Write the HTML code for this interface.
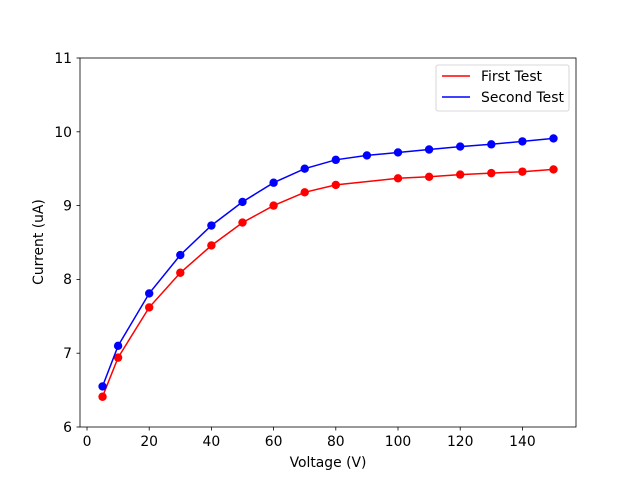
<!DOCTYPE html>
<html><head><meta charset="utf-8"><style>body{margin:0;background:#fff}svg{display:block}text{font-family:"DejaVu Sans","Liberation Sans",sans-serif;font-size:13.9px;fill:#000}</style></head>
<body>
<svg id="s" width="640" height="480" xmlns="http://www.w3.org/2000/svg">
<rect x="80" y="58" width="496" height="369" fill="none" stroke="#000" stroke-width="0.8"/>
<g stroke="#000" stroke-width="0.8">
<line x1="87" y1="427" x2="87" y2="430.5"/><line x1="149.2" y1="427" x2="149.2" y2="430.5"/><line x1="211.4" y1="427" x2="211.4" y2="430.5"/><line x1="273.6" y1="427" x2="273.6" y2="430.5"/><line x1="335.8" y1="427" x2="335.8" y2="430.5"/><line x1="398" y1="427" x2="398" y2="430.5"/><line x1="460.2" y1="427" x2="460.2" y2="430.5"/><line x1="522.4" y1="427" x2="522.4" y2="430.5"/>
<line x1="76.5" y1="427" x2="80" y2="427"/><line x1="76.5" y1="353.2" x2="80" y2="353.2"/><line x1="76.5" y1="279.4" x2="80" y2="279.4"/><line x1="76.5" y1="205.6" x2="80" y2="205.6"/><line x1="76.5" y1="131.8" x2="80" y2="131.8"/><line x1="76.5" y1="58" x2="80" y2="58"/>
</g>
<g text-anchor="middle">
<text x="87" y="446">0</text><text x="149.2" y="446">20</text><text x="211.4" y="446">40</text><text x="273.6" y="446">60</text><text x="335.8" y="446">80</text><text x="398" y="446">100</text><text x="460.2" y="446">120</text><text x="522.4" y="446">140</text>
<text x="328" y="467">Voltage (V)</text>
</g>
<g text-anchor="end">
<text x="72" y="432">6</text><text x="72" y="358">7</text><text x="72" y="284">8</text><text x="72" y="210.5">9</text><text x="72" y="137">10</text><text x="72" y="63">11</text>
</g>
<text x="43" y="242" text-anchor="middle" transform="rotate(-90 43 242)">Current (uA)</text>
<g id="d"></g>
<rect x="436" y="65" width="133" height="46" rx="2" fill="#fff" stroke="#ccc" stroke-width="0.8"/>
<line x1="442" y1="76" x2="470" y2="76" stroke="red" stroke-width="1.5"/>
<line x1="442" y1="97" x2="470" y2="97" stroke="blue" stroke-width="1.5"/>
<text x="481" y="81">First Test</text><text x="481" y="102">Second Test</text>
</svg>
<script>
var X=function(v){return 80+(v+2.25)*3.11},Y=function(v){return 427-(v-6)*73.8};
var r=[[5,6.41],[10,6.94],[20,7.62],[30,8.09],[40,8.46],[50,8.77],[60,9.0],[70,9.18],[80,9.28],[100,9.37],[110,9.39],[120,9.42],[130,9.44],[140,9.46],[150,9.49]];
var b=[[5,6.55],[10,7.1],[20,7.81],[30,8.33],[40,8.73],[50,9.05],[60,9.31],[70,9.5],[80,9.62],[90,9.68],[100,9.72],[110,9.76],[120,9.8],[130,9.83],[140,9.87],[150,9.91]];
var h='';[[r,'red'],[b,'blue']].forEach(function(s){var p=s[0].map(function(q){return X(q[0]).toFixed(1)+','+Y(q[1]).toFixed(1)}).join(' ');h+='<polyline points="'+p+'" fill="none" stroke="'+s[1]+'" stroke-width="1.5"/>';s[0].forEach(function(q){h+='<circle cx="'+X(q[0])+'" cy="'+Y(q[1])+'" r="4.2" fill="'+s[1]+'"/>'})});
document.getElementById('d').innerHTML=h;
</script>
</body></html>
